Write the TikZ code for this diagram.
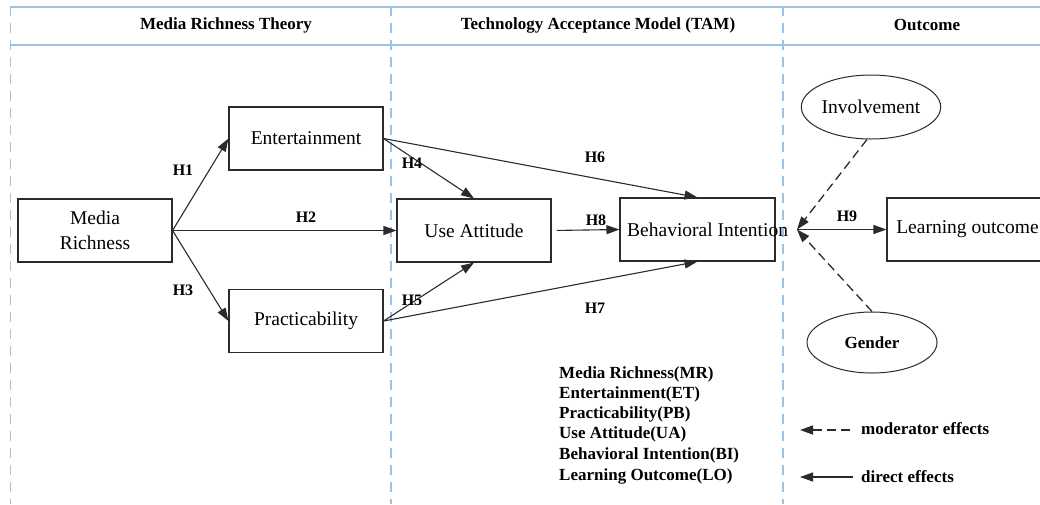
\documentclass[tikz,border=0pt]{standalone}
\usepackage{fontspec}
\setmainfont{Liberation Serif}
\usetikzlibrary{arrows.meta,shapes.geometric,calc}
\definecolor{gridblue}{HTML}{9DC3E6}
\definecolor{ink}{HTML}{2B2B2B}
\begin{document}
\begin{tikzpicture}[x=1pt,y=-1pt,
  box/.style={draw=ink, line width=1.1pt, fill=white, minimum width=154pt, minimum height=63pt, inner sep=0pt, font=\fontsize{19.5}{25}\selectfont, align=center},
  oval/.style={ellipse, draw=ink, line width=1pt, minimum width=130pt, minimum height=64pt, inner sep=0pt},
  hyp/.style={font=\bfseries\fontsize{16}{18}\selectfont, inner sep=0pt},
  head/.style={font=\bfseries\fontsize{17}{19}\selectfont, inner sep=0pt},
  arr/.style={draw=ink, line width=1.1pt, -{Triangle[length=13pt,width=9pt]}},
  modarr/.style={arr, line width=1.3pt, dash pattern=on 9pt off 5pt},
  sep/.style={draw=gridblue, line width=1.3pt, dash pattern=on 10pt off 7pt},
  rule/.style={draw=gridblue, line width=1.6pt},
  legend/.style={font=\bfseries\fontsize{17}{19}\selectfont, anchor=west, inner sep=0pt}]
\useasboundingbox (0,0) rectangle (1040,504);

% frame
\draw[sep] (10.5,6) -- (10.5,504);
\draw[sep] (391,6) -- (391,504);
\draw[sep] (783,6) -- (783,504);
\draw[rule, line width=2pt] (10,6.5) -- (1040,6.5);
\draw[rule] (10,45) -- (1040,45);

% headers
\node[head] (h1t) at (226,25) {Media Richness Theory};
\node[head] (h2t) at (598,25) {Technology Acceptance Model (TAM)};
\node[head] (h3t) at (927,25) {Outcome};

% boxes
\node[box] (mr) at (95,230.5) {Media\\Richness};
\node[box] (et) at (306,138.5) {Entertainment};
\node[box] (pb) at (306,321) {Practicability};
\node[box] (ua) at (474,230.5) {Use Attitude};
\node[box, minimum width=155pt] (bi) at (697.5,229.5) {};
\node[font=\fontsize{19.5}{25}\selectfont, anchor=west, inner sep=0pt] (bitext) at (627,229.5) {Behavioral Intention};
\node[box, minimum width=155pt] (lo) at (964.5,229.5) {\hspace*{6pt}Learning outcome};

% ellipses
\node[oval, font=\fontsize{19.5}{22}\selectfont] (inv) at (871,107) {Involvement};
\node[oval, minimum height=61pt, font=\bfseries\fontsize{17}{19}\selectfont] (gen) at (872,342.5) {Gender};

\coordinate (j) at (797,229.5);

% connectors
\draw[arr] (mr.east) -- (et.west);
\draw[arr] (mr.east) -- (pb.west);
\draw[arr] (mr.east) -- (ua.west);
\draw[arr] (et.east) -- (ua.north);
\draw[arr] (et.east) -- (bi.north);
\draw[arr] (pb.east) -- (ua.south);
\draw[arr] (pb.east) -- (bi.south);
\draw[arr, shorten <=5pt] (ua.east) -- (bi.west);
\draw[arr] (j) -- (lo.west);
\draw[modarr] (inv.263) -- (j);
\draw[modarr] (gen.north) -- (j);

% hypothesis labels
\node[hyp] (l1) at (183,170) {H1};
\node[hyp] (l2) at (306,217) {H2};
\node[hyp] (l3) at (183,290) {H3};
\node[hyp] (l4) at (412,163) {H4};
\node[hyp] (l5) at (412,300) {H5};
\node[hyp] (l6) at (595,157) {H6};
\node[hyp] (l7) at (595,308) {H7};
\node[hyp] (l8) at (596,220) {H8};
\node[hyp] (l9) at (847,216) {H9};

% legend
\node[legend] (g1) at (559,374) {Media Richness(MR)};
\node[legend] (g2) at (559,394.5) {Entertainment(ET)};
\node[legend] (g3) at (559,414.5) {Practicability(PB)};
\node[legend] (g4) at (559,434.5) {Use Attitude(UA)};
\node[legend] (g5) at (559,455) {Behavioral Intention(BI)};
\node[legend] (g6) at (559,476) {Learning Outcome(LO)};

\coordinate (m1) at (850,430);
\coordinate (m2) at (800,430);
\coordinate (d1) at (853,477);
\coordinate (d2) at (800,477);
\draw[modarr] (m1) -- (m2);
\draw[arr] (d1) -- (d2);
\node[legend] (mtext) at (861,429) {moderator effects};
\node[legend] (dtext) at (861,477) {direct effects};
\end{tikzpicture}
\end{document}
